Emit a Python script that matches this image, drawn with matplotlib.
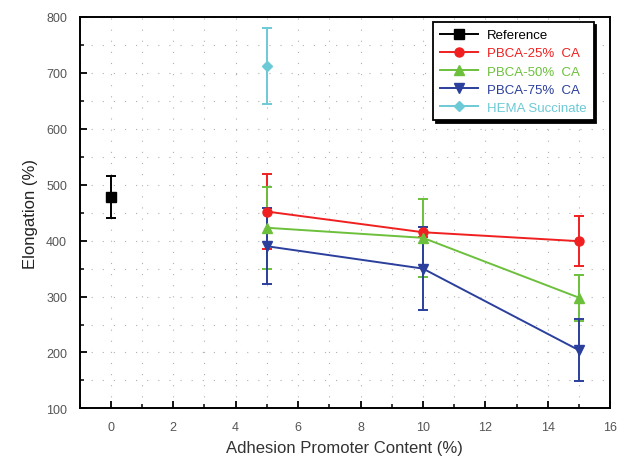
import matplotlib
matplotlib.use("Agg")
import matplotlib.pyplot as plt
from matplotlib.lines import Line2D
from matplotlib.ticker import MultipleLocator

plt.rcParams['font.family'] = ['Liberation Sans', 'DejaVu Sans']

# 付着促進剤含有量 (%) と伸び (%)
ref_x = [0]
ref_y = [478]
ref_err = [37]

content = [5, 10, 15]
pbca25_y = [452, 415, 399]
pbca25_err = [67, 9, 45]
pbca50_y = [423, 405, 298]
pbca50_err = [73, 70, 41]
pbca75_y = [390, 350, 204]
pbca75_err = [68, 74, 55]

hema_x = [5]
hema_y = [712]
hema_err = [68]

series = [
    ("Reference", ref_x, ref_y, ref_err, "black", "s"),
    ("PBCA-25%  CA", content, pbca25_y, pbca25_err, "#f02020", "o"),
    ("PBCA-50%  CA", content, pbca50_y, pbca50_err, "#6cc03c", "^"),
    ("PBCA-75%  CA", content, pbca75_y, pbca75_err, "#2b3f9c", "v"),
    ("HEMA Succinate", hema_x, hema_y, hema_err, "#6ccad6", "D"),
]

fig = plt.figure(figsize=(6.22, 4.6), dpi=100)
ax = fig.add_axes([0.128, 0.110, 0.853, 0.851])

handles = []
for label, x, y, err, color, marker in series:
    ms = 5.5 if marker == "D" else 6.5
    ax.errorbar(x, y, yerr=err, color=color, marker=marker, markersize=ms,
                linewidth=1.4, elinewidth=1.4, capsize=3.5, capthick=1.4, zorder=3)
    handles.append(Line2D([0], [0], color=color, marker=marker, markersize=ms, linewidth=1.4))

ax.set_xlim(-1, 16)
ax.set_ylim(100, 800)
ax.xaxis.set_major_locator(MultipleLocator(2))
ax.xaxis.set_minor_locator(MultipleLocator(1))
ax.yaxis.set_major_locator(MultipleLocator(100))
ax.yaxis.set_minor_locator(MultipleLocator(50))
ax.tick_params(which='major', direction='in', length=5, width=1.3, labelsize=9,
               labelcolor='#555555', pad=9)
ax.tick_params(which='minor', direction='in', length=3, width=1.1)
for sp in ax.spines.values():
    sp.set_linewidth(1.4)

# 点線のグリッド
ax.grid(which='both', color='#b0b0b0', linestyle=(0, (1, 9)), linewidth=0.8, zorder=0)

ax.set_xlabel("Adhesion Promoter Content (%)", fontsize=12, color='#333333', labelpad=5)
ax.set_ylabel("Elongation (%)", fontsize=12, color='#222222', labelpad=6)

leg = ax.legend(handles, [s[0] for s in series], loc='upper right',
                bbox_to_anchor=(0.981, 1.003), fontsize=9.5, frameon=True, fancybox=False,
                shadow={'color': 'black', 'alpha': 1}, handlelength=2.9,
                labelspacing=0.45, borderpad=0.5, handletextpad=0.7)
leg.get_frame().set_edgecolor('black')
leg.get_frame().set_linewidth(1.3)
for text, s in zip(leg.get_texts(), series):
    text.set_color(s[4])

fig.savefig("out.png", dpi=100)
